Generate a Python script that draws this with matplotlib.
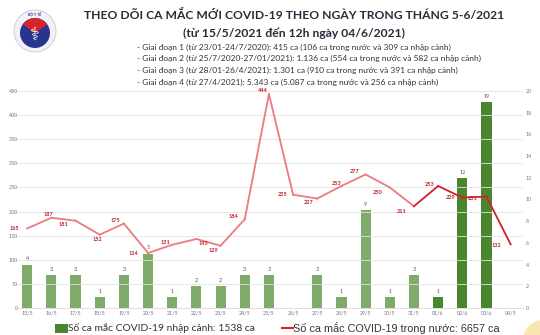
import numpy as np
import matplotlib.pyplot as plt
from matplotlib.patches import Circle, Wedge, Rectangle

plt.rcParams['font.family'] = ['Lato', 'DejaVu Sans']

# Data
dates = ['15/5', '16/5', '17/5', '18/5', '19/5', '20/5', '21/5', '22/5', '23/5', '24/5',
         '25/5', '26/5', '27/5', '28/5', '29/5', '30/5', '31/5', '01/6', '02/6', '03/6', '04/5']
imported = [4, 3, 3, 1, 3, 5, 1, 2, 2, 3, 3, 0, 3, 1, 9, 1, 3, 1, 12, 19, 0]
domestic = [165, 187, 181, 152, 175, 114, 131, 143, 129, 184, 444, 235, 227, 253, 277,
            250, 211, 253, 229, 231, 132]

title1 = 'THEO DÕI CA MẮC MỚI COVID-19 THEO NGÀY TRONG THÁNG 5-6/2021'
title2 = '(từ 15/5/2021 đến 12h ngày 04/6/2021)'
notes = ['- Giai đoạn 1 (từ 23/01-24/7/2020): 415 ca (106 ca trong nước và 309 ca nhập cảnh)',
         '- Giai đoạn 2 (từ 25/7/2020-27/01/2021): 1.136 ca (554 ca trong nước và 582 ca nhập cảnh)',
         '- Giai đoạn 3 (từ 28/01-26/4/2021): 1.301 ca (910 ca trong nước và 391 ca nhập cảnh)',
         '- Giai đoạn 4 (từ 27/4/2021): 5.343 ca (5.087 ca trong nước và 256 ca nhập cảnh)']
legend_bar = 'Số ca mắc COVID-19 nhập cảnh: 1538 ca'
legend_line = 'Số ca mắc COVID-19 trong nước: 6657 ca'

light_green = '#7fab6a'
dark_green = '#4a862e'
light_red = '#ec7a7e'
dark_red = '#d0202c'

fig = plt.figure(figsize=(5.4, 3.35), dpi=100)
ax = fig.add_axes([0.028, 0.081, 0.94, 0.647])
ax2 = ax.twinx()

x = np.arange(len(dates))

# bars on right axis
bar_cols = [dark_green if i >= 17 else light_green for i in x]
for i in x:
    if imported[i] > 0:
        ax2.bar(i, imported[i], width=0.42, color=bar_cols[i], zorder=2)
        ax2.text(i, imported[i] + 0.3, str(imported[i]), ha='center', va='bottom',
                 fontsize=4, color='#555555')

# line on left axis, drawn above
ax.set_zorder(ax2.get_zorder() + 1)
ax.patch.set_visible(False)
for i in range(len(x) - 1):
    c = dark_red if i >= 16 else light_red
    ax.plot(x[i:i + 2], domestic[i:i + 2], color=c, lw=1.3, zorder=3)

offsets = {0: (-0.55, 0), 1: (-0.1, 6), 2: (-0.5, -8), 3: (-0.1, -10), 4: (-0.35, 6),
           5: (-0.6, -2), 6: (-0.3, 4), 7: (0.3, -10), 8: (-0.3, -10), 9: (-0.45, 6),
           10: (-0.25, 8), 11: (-0.45, 0), 12: (-0.35, -8), 13: (-0.2, 6), 14: (-0.45, 6),
           15: (-0.5, -10), 16: (-0.5, -10), 17: (-0.35, 4), 18: (-0.5, 0),
           19: (-0.55, -4), 20: (-0.6, -2)}
for i, v in enumerate(domestic):
    dx, dy = offsets[i]
    ax.text(i + dx, v + dy, str(v), ha='center', va='center', fontsize=4,
            color='#c0202a', fontweight='bold', zorder=4)

ax.set_xlim(-0.5, len(dates) - 0.5)
ax.set_ylim(0, 450)
ax2.set_ylim(0, 20)
ax.set_yticks(np.arange(0, 451, 50))
ax2.set_yticks(np.arange(0, 21, 2))
ax.set_xticks(x)
ax.set_xticklabels(dates)
ax.grid(axis='y', color='#e4e4e4', lw=0.6)
ax.set_axisbelow(True)
for a in (ax, ax2):
    for s in a.spines.values():
        s.set_visible(False)
    a.tick_params(length=0, labelsize=3.8, labelcolor='#777777', pad=2)
ax.tick_params(axis='y', pad=-2)
ax.spines['bottom'].set_visible(True)
ax.spines['bottom'].set_color('#d8d8d8')
ax.spines['bottom'].set_linewidth(0.6)

# titles
fig.text(294 / 540, 1 - 15 / 335, title1, ha='center', va='center', fontsize=8.7,
         fontweight='bold', color='#2a2a3a')
fig.text(294 / 540, 1 - 33 / 335, title2, ha='center', va='center', fontsize=8.7,
         fontweight='bold', color='#2a2a3a')
for k, t in enumerate(notes):
    fig.text(137 / 540, 1 - (47 + k * 11.7) / 335, t, ha='left', va='center', fontsize=6.0,
             color='#333333')

# logo
fig.patches.append(Circle((35, 304), 21, transform=None, facecolor='#f2f2f6',
                          edgecolor='#c8c8d8', lw=0.6))
fig.patches.append(Circle((35, 302), 15, transform=None, facecolor='#27358f'))
fig.patches.append(Wedge((35, 302), 15, 35, 145, transform=None, facecolor='#d9232a'))
fig.text(35 / 540, 300 / 335, '⚕', ha='center', va='center', fontsize=13, color='white',
         family=['DejaVu Sans'])
fig.text(35 / 540, 320 / 335, 'BỘ Y TẾ', ha='center', va='center', fontsize=2.5,
         color='#27358f', fontweight='bold')

# legend
fig.patches.append(Rectangle((55, 2), 13, 9, transform=None, facecolor=dark_green))
fig.text(68 / 540, 7 / 335, legend_bar, ha='left', va='center', fontsize=7.4, color='#333333')
fig.lines.append(plt.Line2D([282 / 540, 293 / 540], [7 / 335, 7 / 335],
                            transform=fig.transFigure, color=dark_red, lw=1.5))
fig.text(293 / 540, 7 / 335, legend_line, ha='left', va='center', fontsize=7.8,
         color='#333333', family=['Liberation Sans', 'DejaVu Sans'])

fig.patches.append(Circle((543, -5), 20, transform=None, facecolor='#f8e7b0', edgecolor='none'))

fig.savefig('out.png', dpi=100)
